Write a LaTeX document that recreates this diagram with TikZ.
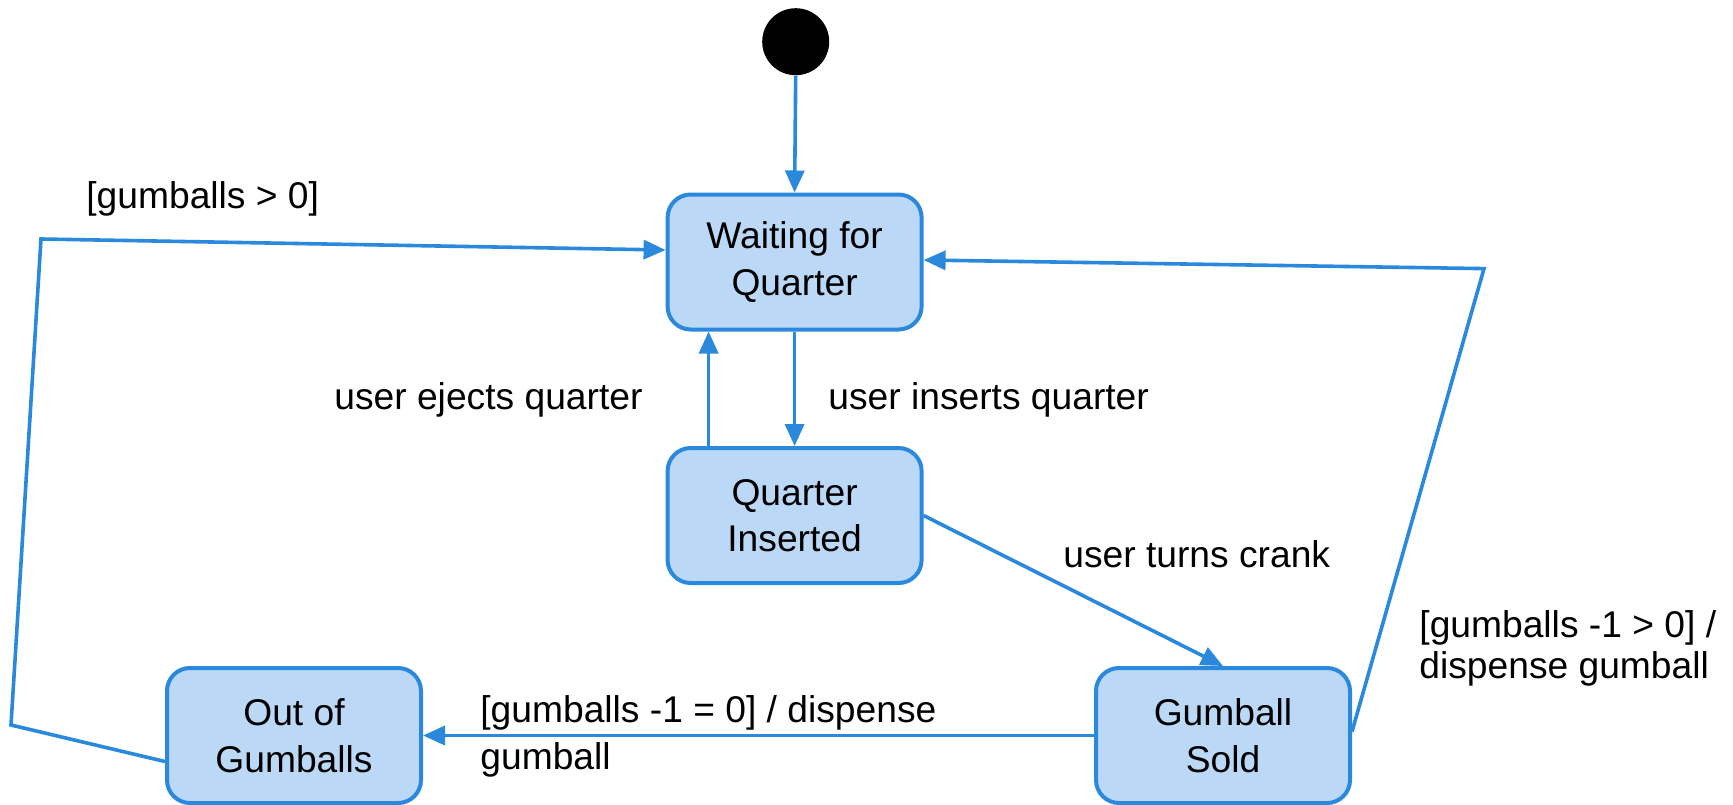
\documentclass[tikz,border=0pt]{standalone}
\usepackage{fontspec}
\setmainfont{Liberation Sans}
\usetikzlibrary{arrows.meta}
\definecolor{edge}{RGB}{42,137,220}
\definecolor{boxfill}{RGB}{187,216,246}
\tikzset{
  state/.style={draw=edge, fill=boxfill, line width=2pt, rounded corners=11.5pt,
    minimum width=127pt, minimum height=67.5pt, align=center, inner sep=0pt,
    font=\fontsize{18.6pt}{23.3pt}\selectfont},
  initst/.style={circle, fill=black, minimum size=33.5pt, inner sep=0pt},
  conn/.style={draw=edge, line width=1.8pt, -{Triangle[length=11pt,width=9.5pt]}},
  lbl/.style={inner sep=0pt, align=left, font=\fontsize{18.6pt}{22pt}\selectfont},
}
\begin{document}
\begin{tikzpicture}[x=0.5pt,y=-0.5pt]
\useasboundingbox (0,0) rectangle (1733,804);
\node[initst] (init) at (795.7,41.7) {};
\node[state] (W) at (794.6,262) {Waiting for\\Quarter};
\node[state] (Q) at (794.6,515.5) {Quarter\\Inserted};
\node[state] (O) at (294,735.5) {Out of\\Gumballs};
\node[state] (S) at (1223,735.5) {Gumball\\Sold};
\coordinate (l1) at (11,725);
\coordinate (l2) at (41,239);
\coordinate (r1) at (1484,268.6);

\draw[conn] (init.south) -- (W.north);
\draw[conn] (W.south) -- (Q.north);
\draw[conn] ([xshift=-43pt]Q.north) -- ([xshift=-43pt]W.south);
\draw[conn] (Q.east) -- (S.north);
\draw[conn] (S.west) -- (O.east);
\draw[conn] ([yshift=-13pt]O.west) -- (l1) -- (l2) -- ([yshift=6pt]W.west);
\draw[conn] ([yshift=2pt]S.east) -- (r1) -- ([yshift=1pt]W.east);

\node[lbl, anchor=west] (t1) at (86,199) {[gumballs > 0]};
\node[lbl, anchor=west] (t2) at (334,400) {user ejects quarter};
\node[lbl, anchor=west] (t3) at (828,400) {user inserts quarter};
\node[lbl, anchor=west] (t4) at (1063,554) {user turns crank};
\node[lbl, anchor=west, font=\fontsize{18.6pt}{20.5pt}\selectfont] (t5) at (1419,648) {[gumballs -1 > 0] /\\dispense gumball};
\node[lbl, anchor=west, font=\fontsize{18.6pt}{23.7pt}\selectfont] (t6) at (480,736.5) {[gumballs -1 = 0] / dispense\\gumball};
\end{tikzpicture}
\end{document}
